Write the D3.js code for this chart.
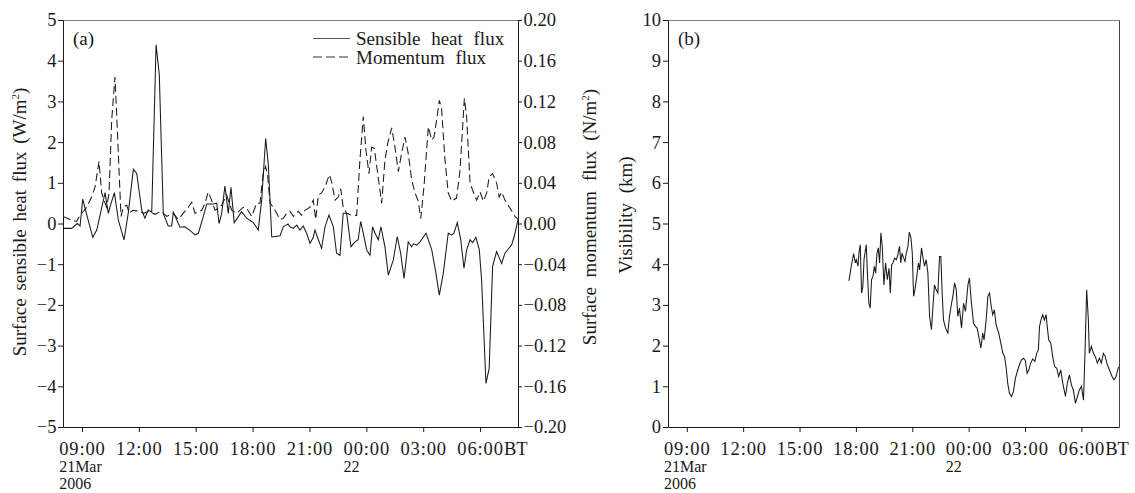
<!DOCTYPE html>
<html><head><meta charset="utf-8">
<script src="https://cdn.jsdelivr.net/npm/d3@7"></script>
<style>
body{margin:0;background:#fff;}
svg{display:block;font-family:"Liberation Serif","Times New Roman",serif;}
</style></head><body>
<svg id="chart" width="1135" height="493"></svg>
<script>
// ---- data (hours counted from 00:00 BT, 21 Mar 2006) ----
const heatTime = [8.0,8.46,8.75,8.9,9.04,9.28,9.57,9.78,10.22,10.39,10.48,10.71,10.92,11.22,11.44,11.71,11.89,12.15,12.32,12.5,12.68,12.91,13.08,13.29,13.55,13.73,13.82,14.17,14.43,14.7,14.96,15.14,15.4,15.58,15.93,16.11,16.23,16.37,16.54,16.72,16.86,17.03,17.25,17.42,17.69,18.04,18.3,18.48,18.69,18.83,19.01,19.45,19.62,19.87,19.97,20.15,20.33,20.5,20.67,20.85,21.03,21.2,21.29,21.47,21.64,21.82,22.03,22.26,22.43,22.61,22.78,22.96,23.19,23.4,23.57,23.7,23.84,24.02,24.19,24.33,24.46,24.63,24.77,24.98,25.16,25.42,25.63,25.81,25.99,26.21,26.39,26.48,26.66,26.83,27.15,27.45,27.67,27.85,28.06,28.32,28.5,28.62,28.8,28.98,29.15,29.29,29.47,29.61,29.78,29.96,30.08,30.31,30.48,30.66,30.87,31.14,31.31,31.66,31.8,32.0];
const heatValue = [-0.12,-0.12,0.0,-0.06,0.6,0.17,-0.34,-0.16,0.76,0.25,0.41,0.76,0.08,-0.4,0.25,1.33,1.23,0.33,0.13,0.33,0.28,4.39,3.65,0.25,-0.06,-0.06,0.28,-0.09,-0.08,-0.17,-0.28,-0.24,0.17,0.48,0.48,0.5,0.0,0.25,0.92,0.25,0.89,0.02,0.17,0.29,0.13,0.02,-0.16,0.58,2.09,1.45,-0.33,-0.3,-0.08,-0.01,-0.08,-0.12,-0.04,-0.16,-0.06,-0.24,-0.49,-0.34,-0.16,-0.4,-0.61,-0.08,0.21,-0.08,-0.73,-0.78,0.25,0.25,-0.57,-0.45,-0.4,0.05,-0.24,-0.65,-0.78,-0.08,-0.24,-0.4,-0.08,-0.57,-1.27,-0.9,-0.32,-0.73,-1.35,-0.45,-0.57,-0.5,-0.53,-0.45,-0.24,-0.65,-1.22,-1.76,-1.22,-0.24,-0.28,-0.24,0.02,-0.4,-1.1,-0.65,-0.4,-0.47,-0.34,-0.65,-1.39,-3.93,-3.56,-1.06,-0.69,-0.98,-0.73,-0.53,-0.32,0.09];

const momTime = [8.0,8.37,8.72,8.9,9.25,9.51,9.69,9.9,10.04,10.16,10.3,10.43,10.57,10.74,10.86,10.97,11.06,11.18,11.36,11.5,11.68,11.97,12.27,12.5,12.85,13.17,13.47,13.82,14.08,14.34,14.61,14.79,14.96,15.32,15.49,15.66,15.84,16.02,16.19,16.37,16.63,16.9,17.16,17.51,17.69,17.95,18.22,18.39,18.56,18.69,18.8,18.92,19.09,19.27,19.45,19.62,19.8,19.97,20.15,20.41,20.59,20.76,21.03,21.2,21.33,21.47,21.64,21.82,22.05,22.17,22.35,22.52,22.65,22.78,22.96,23.23,23.49,23.66,23.84,23.98,24.14,24.28,24.42,24.6,24.81,24.98,25.13,25.34,25.51,25.69,25.86,26.04,26.21,26.39,26.57,26.74,26.87,27.04,27.27,27.45,27.57,27.71,27.85,27.97,28.15,28.32,28.5,28.76,28.94,29.08,29.17,29.29,29.47,29.64,29.82,30.0,30.17,30.35,30.48,30.66,30.87,31.01,31.14,31.31,31.58,31.84,32.0];
const momValue = [0.007,0.004,0.002,0.008,0.016,0.026,0.036,0.061,0.030,0.023,0.016,0.030,0.102,0.144,0.095,0.046,0.007,0.016,0.018,0.010,0.013,0.012,0.010,0.012,0.009,0.012,0.007,0.010,0.004,0.010,0.016,0.021,0.010,0.013,0.020,0.031,0.023,0.013,0.015,0.018,0.028,0.013,0.010,0.016,0.015,0.007,0.020,0.020,0.049,0.056,0.046,0.020,0.016,0.010,0.004,0.005,0.010,0.012,0.007,0.012,0.008,0.013,0.016,0.023,0.004,0.028,0.030,0.036,0.048,0.041,0.023,0.026,0.034,0.016,0.010,0.008,0.008,0.062,0.105,0.072,0.049,0.075,0.074,0.049,0.020,0.062,0.079,0.094,0.075,0.051,0.069,0.085,0.069,0.043,0.030,0.022,0.005,0.036,0.095,0.082,0.085,0.102,0.121,0.113,0.062,0.030,0.022,0.025,0.052,0.095,0.123,0.105,0.040,0.031,0.023,0.031,0.022,0.030,0.046,0.049,0.040,0.026,0.031,0.023,0.015,0.007,0.004];

const visTime = [17.63,17.75,17.88,17.97,18.02,18.11,18.16,18.23,18.30,18.37,18.43,18.48,18.55,18.62,18.69,18.76,18.83,18.91,18.98,19.05,19.12,19.19,19.26,19.33,19.40,19.49,19.58,19.67,19.76,19.83,19.90,19.97,20.06,20.15,20.23,20.32,20.39,20.45,20.54,20.61,20.68,20.77,20.84,20.93,21.00,21.07,21.14,21.24,21.33,21.39,21.49,21.56,21.65,21.74,21.83,21.92,22.02,22.10,22.18,22.27,22.36,22.45,22.52,22.59,22.66,22.77,22.89,22.98,23.09,23.16,23.25,23.34,23.42,23.51,23.62,23.73,23.83,23.96,24.04,24.13,24.26,24.36,24.45,24.54,24.65,24.75,24.82,24.93,25.02,25.11,25.20,25.28,25.37,25.46,25.60,25.71,25.82,25.91,25.99,26.08,26.17,26.28,26.38,26.49,26.61,26.70,26.81,26.92,27.02,27.11,27.20,27.30,27.41,27.52,27.62,27.71,27.77,27.85,27.94,28.03,28.12,28.19,28.26,28.37,28.47,28.58,28.69,28.79,28.90,29.01,29.15,29.25,29.36,29.47,29.57,29.68,29.79,29.89,30.00,30.11,30.19,30.28,30.37,30.42,30.53,30.64,30.74,30.85,30.96,31.06,31.17,31.27,31.38,31.49,31.63,31.73,31.84,31.98];
const visValue = [3.59,3.95,4.26,4.03,4.11,3.95,4.27,4.48,3.29,3.45,4.11,4.27,4.48,3.70,3.04,2.92,3.62,3.70,3.95,3.78,4.27,4.40,4.03,4.77,4.44,3.49,4.03,3.62,3.90,3.29,3.99,4.03,4.15,4.11,4.23,4.44,4.03,4.27,4.15,4.07,4.27,4.44,4.79,4.64,4.27,3.21,3.37,3.70,4.03,3.86,4.40,4.19,3.95,4.11,3.78,2.72,2.39,2.96,3.49,3.37,3.29,4.19,4.19,3.29,2.63,2.43,2.31,2.72,3.04,3.21,3.54,3.37,2.72,2.92,2.43,3.04,2.84,3.49,3.66,3.13,2.55,2.47,2.43,2.22,1.94,2.31,2.14,2.63,3.21,3.29,2.96,2.76,2.88,2.51,2.31,2.06,1.81,1.73,1.48,1.07,0.83,0.75,0.87,1.20,1.40,1.53,1.65,1.69,1.63,1.32,1.40,1.57,1.67,1.61,1.81,1.90,2.47,2.63,2.76,2.63,2.76,2.43,2.14,2.06,1.73,1.48,1.44,1.24,1.40,1.07,0.75,1.07,1.28,1.03,0.91,0.58,0.75,0.91,1.00,0.66,1.81,3.37,2.63,1.81,1.98,1.81,1.73,1.57,1.69,1.57,1.81,1.73,1.53,1.40,1.24,1.16,1.24,1.48];

const timeTickHours = [9,12,15,18,21,24,27,30];
const timeTickLabels = ["09:00","12:00","15:00","18:00","21:00","00:00","03:00","06:00"];
const timeTickSubLines = [["21Mar","2006"],[],[],[],[],["22"],[],[]];
const lastTickSuffix = "BT";
const heatTicks = [-5,-4,-3,-2,-1,0,1,2,3,4,5];
const momTicks = [-0.20,-0.16,-0.12,-0.08,-0.04,0.00,0.04,0.08,0.12,0.16,0.20];
const visTicks = [0,1,2,3,4,5,6,7,8,9,10];
const seriesNames = ["Sensible heat flux","Momentum flux"];

// ---- drawing ----
const svg = d3.select("#chart");
const T0 = Date.UTC(2006,2,21,0,0);
const toDate = h => new Date(T0 + h*3600000);
const ink = "#1a1a1a";
const FS = 18.5;
const pairs = (t,v) => t.slice(0, Math.min(t.length,v.length)).map((h,i)=>({d:toDate(h), v:v[i]}));

function styleAxis(g){
  g.attr("font-size",null).attr("font-family",null);
  g.selectAll("path.domain").attr("stroke",ink).attr("stroke-width",1);
  g.selectAll(".tick line").attr("stroke",ink);
  g.selectAll(".tick text").attr("fill",ink).style("font-size",FS+"px");
}

function timeAxis(x, yBase){
  const ax = d3.axisBottom(x).tickValues(timeTickHours.map(toDate)).tickSize(5).tickSizeOuter(0).tickFormat("");
  const g = svg.append("g").attr("transform",`translate(0,${yBase})`).call(ax);
  styleAxis(g);
  timeTickHours.forEach((h,i)=>{
    const tx = x(toDate(h));
    const t = svg.append("text").attr("y",454.5).attr("fill",ink).style("font-size",FS+"px");
    const main = t.append("tspan").style("letter-spacing","0.9px").text(timeTickLabels[i]);
    const w = main.node().getComputedTextLength();
    const left = tx - w/2 + 0.5;
    main.attr("x", left);
    if(i === timeTickHours.length-1){
      t.append("tspan").style("letter-spacing","0px").text(lastTickSuffix);
    }
    timeTickSubLines[i].forEach((s,k)=>{
      t.append("tspan").attr("x",left).attr("y",472+k*17).style("font-size","16px").text(s);
    });
  });
}

// Panel (a)
const xa = d3.scaleUtc().domain([toDate(8),toDate(32)]).range([63,518]);
const ya = d3.scaleLinear().domain([-5,5]).range([427,20]);
const ym = d3.scaleLinear().domain([-0.2,0.2]).range([427,20]);

svg.append("line").attr("x1",63).attr("x2",518.5).attr("y1",20.5).attr("y2",20.5).attr("stroke","#808080").attr("stroke-width",1.2);

const gla = svg.append("g").attr("transform","translate(63,0)")
  .call(d3.axisLeft(ya).tickValues(heatTicks).tickSize(5).tickSizeOuter(0).tickPadding(1.5).tickFormat(d3.format("d")));
styleAxis(gla);
const gra = svg.append("g").attr("transform","translate(518,0)")
  .call(d3.axisRight(ym).tickValues(momTicks).tickSize(4).tickSizeOuter(0).tickPadding(1.5).tickFormat(d3.format(".2f")));
styleAxis(gra);
timeAxis(xa, 427);

svg.append("clipPath").attr("id","clipA").append("rect").attr("x",63).attr("y",20).attr("width",456).attr("height",408);

svg.append("path").datum(pairs(momTime,momValue))
  .attr("clip-path","url(#clipA)")
  .attr("fill","none").attr("stroke",ink).attr("stroke-width",1.05).attr("stroke-dasharray","8,4")
  .attr("d", d3.line().x(p=>xa(p.d)).y(p=>ym(p.v)));
svg.append("path").datum(pairs(heatTime,heatValue))
  .attr("clip-path","url(#clipA)")
  .attr("fill","none").attr("stroke",ink).attr("stroke-width",1.05)
  .attr("d", d3.line().x(p=>xa(p.d)).y(p=>ya(p.v)));

// legend
svg.append("line").attr("x1",313).attr("x2",350).attr("y1",38.5).attr("y2",38.5).attr("stroke","#555").attr("stroke-width",1.2);
svg.append("line").attr("x1",313).attr("x2",350).attr("y1",57).attr("y2",57).attr("stroke","#333").attr("stroke-width",1.1).attr("stroke-dasharray","9,4");
const legText = svg.append("text").attr("fill",ink).style("font-size","19px").style("word-spacing","6px");
legText.append("tspan").attr("x",356).attr("y",44.5).text(seriesNames[0]);
legText.append("tspan").attr("x",356).attr("y",63.5).text(seriesNames[1]);

svg.append("text").attr("x",73).attr("y",45).attr("fill",ink).style("font-size","19px").text("(a)");

// vertical axis titles
function vTitle(x, y, parts, ws){
  const t = svg.append("text").attr("transform",`translate(${x},${y}) rotate(-90)`)
    .attr("text-anchor","middle").attr("fill",ink).style("font-size","19px").style("word-spacing",ws+"px");
  parts.forEach(p=>{
    const ts = t.append("tspan").text(p.t);
    if(p.sup){ ts.attr("dy",-7).style("font-size","11px"); }
    if(p.after){ ts.attr("dy",7); }
  });
}
vTitle(26, 222, [{t:"Surface sensible heat flux (W/m"},{t:"2",sup:true},{t:")",after:true}], 3);
vTitle(596, 217, [{t:"Surface momentum flux (N/m"},{t:"2",sup:true},{t:")",after:true}], 5);

// Panel (b)
const xb = d3.scaleUtc().domain([toDate(8),toDate(32)]).range([668,1119]);
const yb = d3.scaleLinear().domain([0,10]).range([427,20]);
svg.append("line").attr("x1",668).attr("x2",1119.5).attr("y1",20.5).attr("y2",20.5).attr("stroke","#808080").attr("stroke-width",1.2);
svg.append("line").attr("x1",1119.5).attr("x2",1119.5).attr("y1",20.5).attr("y2",427.5).attr("stroke","#444").attr("stroke-width",1);
const glb = svg.append("g").attr("transform","translate(668,0)")
  .call(d3.axisLeft(yb).tickValues(visTicks).tickSize(5).tickSizeOuter(0).tickPadding(2).tickFormat(d3.format("d")));
styleAxis(glb);
timeAxis(xb, 427);
svg.append("path").datum(pairs(visTime,visValue))
  .attr("fill","none").attr("stroke",ink).attr("stroke-width",1.05)
  .attr("d", d3.line().x(p=>xb(p.d)).y(p=>yb(p.v)));
svg.append("text").attr("x",678).attr("y",45).attr("fill",ink).style("font-size","19px").text("(b)");
vTitle(632, 215, [{t:"Visibility (km)"}], 5);
</script>
</body></html>
